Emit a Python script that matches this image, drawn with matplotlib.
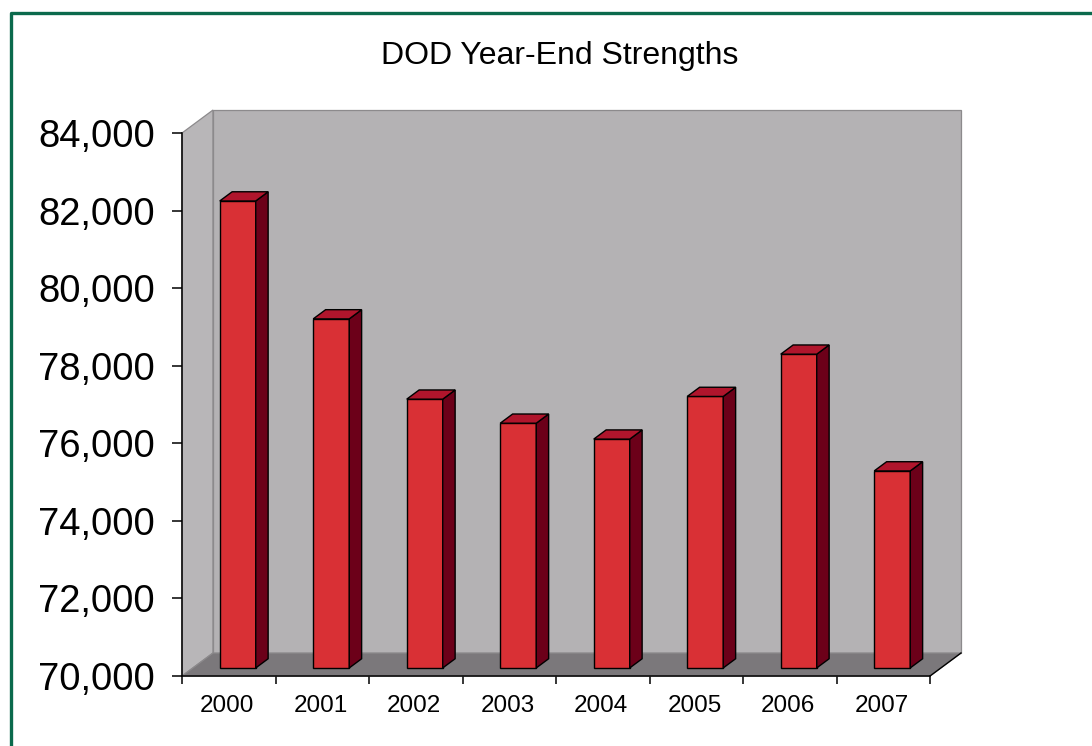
"""DOD Year-End Strengths - 3D style column chart"""

import matplotlib
matplotlib.use("Agg")
from matplotlib import pyplot as plt
from matplotlib.patches import Polygon
from matplotlib.lines import Line2D
from matplotlib.ticker import FuncFormatter


# Dati
anni = ["2000", "2001", "2002", "2003", "2004", "2005", "2006", "2007"]
forze = [82040, 79000, 76930, 76310, 75900, 77000, 78090, 75080]
y_min, y_max = 70000, 84000
y_ticks = [70000, 72000, 74000, 76000, 78000, 80000, 82000, 84000]

plt.rcParams["font.family"] = ["Liberation Sans", "DejaVu Sans"]

W, H = 1092, 746
fig = plt.figure(figsize=(W / 100, H / 100), dpi=100)

# Piano frontale dell'asse: (0, 70000) -> px (182, 676), (8, 84000) -> px (930, 133)
ax = fig.add_axes([182 / W, (H - 676) / H, (930 - 182) / W, (676 - 133) / H])
ax.set_xlim(0, len(anni))
ax.set_ylim(y_min, y_max)
ax.patch.set_visible(False)

# Profondita' 3D in unita' dati
px_x = len(anni) / (930 - 182)
px_y = (y_max - y_min) / (676 - 133)
DX = 31 * px_x
DY = 23 * px_y

# Pareti e pavimento
parete_lato = Polygon([(0, y_min), (DX, y_min + DY), (DX, y_max + DY), (0, y_max)],
                      closed=True, facecolor="#b8b6b8", edgecolor="#8c8a8c",
                      linewidth=0.9, clip_on=False, zorder=1)
parete_fondo = Polygon([(DX, y_min + DY), (len(anni) + DX, y_min + DY),
                        (len(anni) + DX, y_max + DY), (DX, y_max + DY)],
                       closed=True, facecolor="#b4b2b4", edgecolor="#8c8a8c",
                       linewidth=0.9, clip_on=False, zorder=1)
pavimento = Polygon([(0, y_min), (len(anni), y_min), (len(anni) + DX, y_min + DY), (DX, y_min + DY)],
                    closed=True, facecolor="#7b787b", edgecolor="#8c8a8c",
                    linewidth=0.9, clip_on=False, zorder=2)
for p in (parete_lato, parete_fondo, pavimento):
    ax.add_patch(p)
ax.add_line(Line2D([len(anni), len(anni) + DX], [y_min, y_min + DY], color="black",
                   linewidth=1.0, clip_on=False, zorder=3))

# Barre
f0 = 0.35   # profondita' faccia anteriore
f1 = 0.75   # profondita' faccia posteriore
larghezza = 0.385
for i, valore in enumerate(forze):
    x0 = i + 0.48 - larghezza / 2 + f0 * DX
    x1 = x0 + larghezza
    b = y_min + f0 * DY
    t = valore + f0 * DY
    ddx = (f1 - f0) * DX
    ddy = (f1 - f0) * DY
    fronte = Polygon([(x0, b), (x1, b), (x1, t), (x0, t)], closed=True,
                     facecolor="#d93035", edgecolor="black", linewidth=1.0,
                     clip_on=False, zorder=5, joinstyle="miter")
    lato = Polygon([(x1, b), (x1 + ddx, b + ddy), (x1 + ddx, t + ddy), (x1, t)], closed=True,
                   facecolor="#6c0019", edgecolor="black", linewidth=1.0,
                   clip_on=False, zorder=5, joinstyle="miter")
    cima = Polygon([(x0, t), (x1, t), (x1 + ddx, t + ddy), (x0 + ddx, t + ddy)], closed=True,
                   facecolor="#b0152c", edgecolor="black", linewidth=1.0,
                   clip_on=False, zorder=5, joinstyle="miter")
    for p in (fronte, lato, cima):
        ax.add_patch(p)

# Assi
for lato_spine in ("top", "right"):
    ax.spines[lato_spine].set_visible(False)
for lato_spine in ("left", "bottom"):
    ax.spines[lato_spine].set_linewidth(1.1)
    ax.spines[lato_spine].set_zorder(6)

ax.set_yticks(y_ticks)
ax.yaxis.set_major_formatter(FuncFormatter(lambda v, pos: f"{int(v):,}"))
ax.tick_params(axis="y", direction="out", length=7.5, width=1.1, pad=12, labelsize=27.5)

ax.set_xticks(range(len(anni) + 1))
ax.set_xticklabels([])
ax.set_xticks([i + 0.48 for i in range(len(anni))], minor=True)
ax.set_xticklabels(anni, minor=True)
ax.tick_params(axis="x", which="major", direction="out", length=6, width=1.1)
ax.tick_params(axis="x", which="minor", length=0, pad=14, labelsize=17.5)

# Titolo
fig.text(560 / W, 1 - 56 / H, "DOD Year-End Strengths", ha="center", va="center", fontsize=23)

# Bordo verde
fig.add_artist(Line2D([10.5 / W, 10.5 / W, 1.0], [0.0, 1 - 12.5 / H, 1 - 12.5 / H],
                      transform=fig.transFigure, color="#0b6a4c", linewidth=2.4))

fig.savefig("out.png", dpi=100)
